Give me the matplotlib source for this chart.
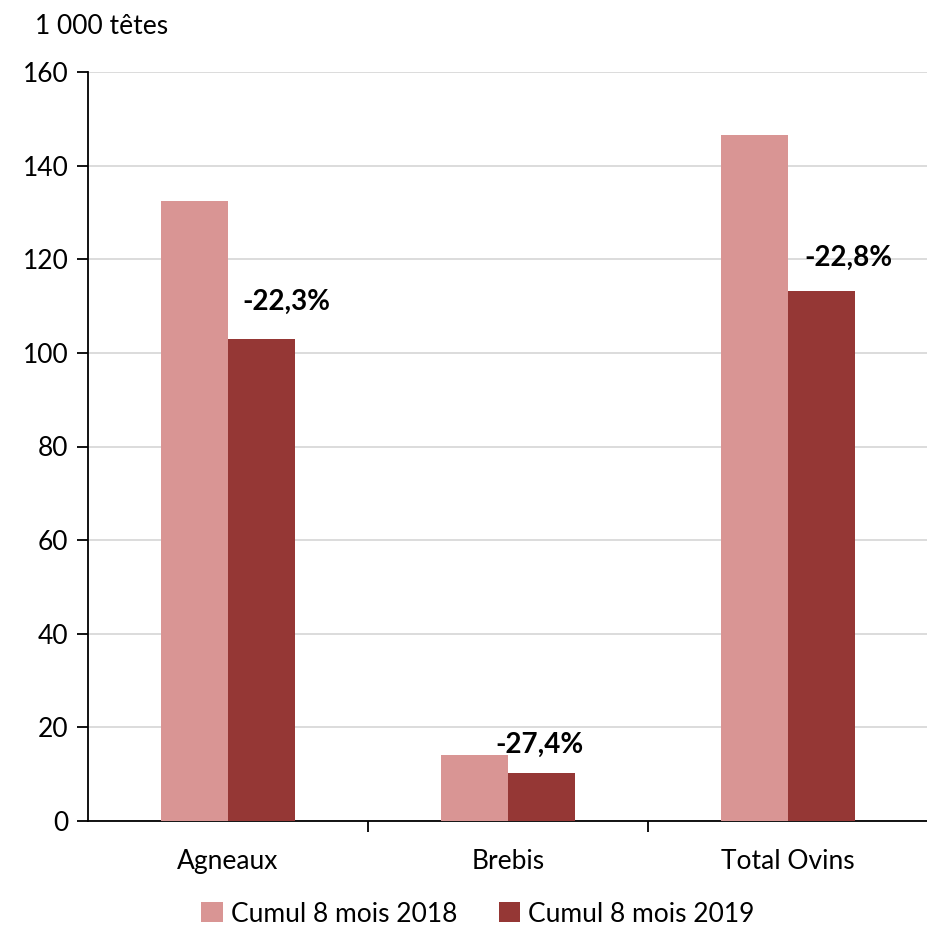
import matplotlib.pyplot as plt
import numpy as np

categories = ['Agneaux', 'Brebis', 'Total Ovins']
cumul_2018 = [132.4, 14.1, 146.6]
cumul_2019 = [102.9, 10.3, 113.2]
variations = ['-22,3%', '-27,4%', '-22,8%']
series_names = ['Cumul 8 mois 2018', 'Cumul 8 mois 2019']

plt.rcParams['font.family'] = ['Lato', 'DejaVu Sans']

fig = plt.figure(figsize=(9.28, 9.27), dpi=100)
ax = fig.add_axes([88 / 928, 1 - 821 / 927, 1 - 88 / 928, (821 - 72) / 927])

x = np.arange(len(categories))
w = 0.238
ax.bar(x - w / 2, cumul_2018, w, color='#D99594', label=series_names[0], zorder=3)
ax.bar(x + w / 2, cumul_2019, w, color='#953735', label=series_names[1], zorder=3)

# labels sit a bit above the 2019 bars
label_pos = [(0.21, 110.9), (1.112, 16.2), (2.216, 120.3)]
for (lx, ly), txt in zip(label_pos, variations):
    ax.text(lx, ly, txt, ha='center', va='center', fontsize=20, fontweight='bold', color='black')

ax.set_ylim(0, 160)
ax.set_xlim(-0.5, 2.463)
ax.set_yticks(np.arange(0, 161, 20))
ax.yaxis.grid(True, color='#D9D9D9', linewidth=1.3, zorder=0)
ax.set_axisbelow(True)

ax.set_xticks(x)
ax.set_xticklabels(categories)
ax.set_xticks([0.5, 1.5, 2.5], minor=True)
ax.tick_params(axis='x', which='major', length=0, pad=20, labelsize=19)
ax.tick_params(axis='x', which='minor', length=8, width=1.3, direction='out')
ax.tick_params(axis='y', length=8, width=1.3, labelsize=19, pad=6)

for s in ['top', 'right']:
    ax.spines[s].set_visible(False)
ax.spines['left'].set_linewidth(1.3)
ax.spines['bottom'].set_linewidth(1.3)

fig.text(35 / 928, 1 - 27 / 927, '1 000 têtes', fontsize=19, va='center', ha='left')

fig.legend(loc='center', bbox_to_anchor=(478 / 928, 1 - 914 / 927), ncol=2, frameon=False,
           fontsize=19, handlelength=0.8, handleheight=0.8, handletextpad=0.3, columnspacing=1.6)

fig.savefig('out.png', dpi=100)
